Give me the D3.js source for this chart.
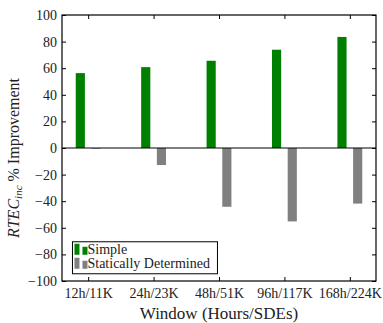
<!DOCTYPE html>
<html>
<head>
<meta charset="utf-8">
<script src="https://cdn.jsdelivr.net/npm/d3@7"></script>
<style>
  body { margin: 0; background: #fff; }
</style>
</head>
<body>
<svg id="chart" width="383" height="323"></svg>
<script>
const windows = ["12h/11K", "24h/23K", "48h/51K", "96h/117K", "168h/224K"];
const simpleVals = [56.3, 60.8, 65.6, 73.9, 83.5];
const staticVals = [-0.5, -12.8, -44.2, -55.2, -41.8];
const seriesNames = ["Simple", "Statically Determined"];
const seriesColors = ["#008000", "#808080"];
const yTicks = [-100, -80, -60, -40, -20, 0, 20, 40, 60, 80, 100];

const serif = "'Liberation Serif', 'Times New Roman', serif";
const margin = { top: 15, right: 7, bottom: 42, left: 62 };
const width = 383 - margin.left - margin.right;
const height = 323 - margin.top - margin.bottom;

const svg = d3.select("#chart")
  .append("g")
  .attr("transform", "translate(" + margin.left + "," + margin.top + ")");

// x is numeric (category index), like matplotlib
const x = d3.scaleLinear().domain([-0.4, windows.length - 0.6]).range([0, width]);
const y = d3.scaleLinear().domain([-100, 100]).range([height, 0]);

const barW = 0.14;
const offsets = [-0.19, 0.05];

// bars
[simpleVals, staticVals].forEach((vals, s) => {
  svg.selectAll(".bar" + s)
    .data(vals)
    .enter()
    .append("rect")
    .attr("x", (d, i) => x(i + offsets[s]))
    .attr("width", x(barW) - x(0))
    .attr("y", d => y(Math.max(0, d)))
    .attr("height", d => Math.abs(y(d) - y(0)))
    .attr("fill", seriesColors[s]);
});

// zero line
svg.append("line")
  .attr("x1", 0).attr("x2", width)
  .attr("y1", y(0)).attr("y2", y(0))
  .attr("stroke", "#000").attr("stroke-width", 1);

// axes, ticks inside like classic matplotlib
const tickLen = 4;
svg.append("g")
  .attr("transform", "translate(0," + height + ")")
  .call(d3.axisBottom(x).tickValues(d3.range(windows.length)).tickFormat(i => windows[i])
    .tickSizeInner(-tickLen).tickSizeOuter(0).tickPadding(7))
  .call(g => g.select(".domain").remove());

svg.append("g")
  .call(d3.axisTop(x).tickValues(d3.range(windows.length)).tickFormat("")
    .tickSizeInner(-tickLen).tickSizeOuter(0))
  .call(g => g.select(".domain").remove());

svg.append("g")
  .call(d3.axisLeft(y).tickValues(yTicks).tickFormat(d => d < 0 ? "\u2212" + Math.abs(d) : d)
    .tickSizeInner(-tickLen).tickSizeOuter(0).tickPadding(5))
  .call(g => g.select(".domain").remove());

svg.append("g")
  .attr("transform", "translate(" + width + ",0)")
  .call(d3.axisRight(y).tickValues(yTicks).tickFormat("")
    .tickSizeInner(-tickLen).tickSizeOuter(0))
  .call(g => g.select(".domain").remove());

svg.selectAll(".tick line").attr("stroke", "#000");
svg.selectAll(".tick text").style("font-family", serif).style("font-size", "14px").attr("fill", "#222");

// frame
svg.append("rect")
  .attr("x", 0).attr("y", 0).attr("width", width).attr("height", height)
  .attr("fill", "none").attr("stroke", "#000").attr("stroke-width", 1.2);

// axis labels
svg.append("text")
  .attr("x", width / 2).attr("y", height + 38)
  .attr("text-anchor", "middle")
  .style("font-family", serif).style("font-size", "17px").attr("fill", "#222")
  .text("Window (Hours/SDEs)");

const yl = svg.append("text")
  .attr("transform", "translate(" + (-43) + "," + (height / 2 + 10) + ") rotate(-90)")
  .attr("text-anchor", "middle")
  .style("font-family", serif).style("font-size", "16px").attr("fill", "#222");
yl.append("tspan").attr("font-style", "italic").text("RTEC");
yl.append("tspan").attr("font-style", "italic").style("font-size", "11px").attr("dy", 3).text("inc");
yl.append("tspan").attr("dy", -3).text(" % Improvement");

// legend
const lg = svg.append("g").attr("transform", "translate(" + (x(-0.24)) + "," + y(-70.5) + ")");
lg.append("rect")
  .attr("width", 145).attr("height", 32)
  .attr("fill", "#fff").attr("stroke", "#000").attr("stroke-width", 1);
seriesNames.forEach((name, s) => {
  const row = lg.append("g").attr("transform", "translate(2," + (2 + s * 14) + ")");
  row.append("rect").attr("x", 0).attr("y", 0).attr("width", 5).attr("height", 11).attr("fill", seriesColors[s]);
  row.append("rect").attr("x", 8).attr("y", 3).attr("width", 5).attr("height", 8).attr("fill", seriesColors[s]);
  row.append("text").attr("x", 13).attr("y", 10.5)
    .style("font-family", serif).style("font-size", "14px").attr("fill", "#222").text(name);
});
</script>
</body>
</html>
